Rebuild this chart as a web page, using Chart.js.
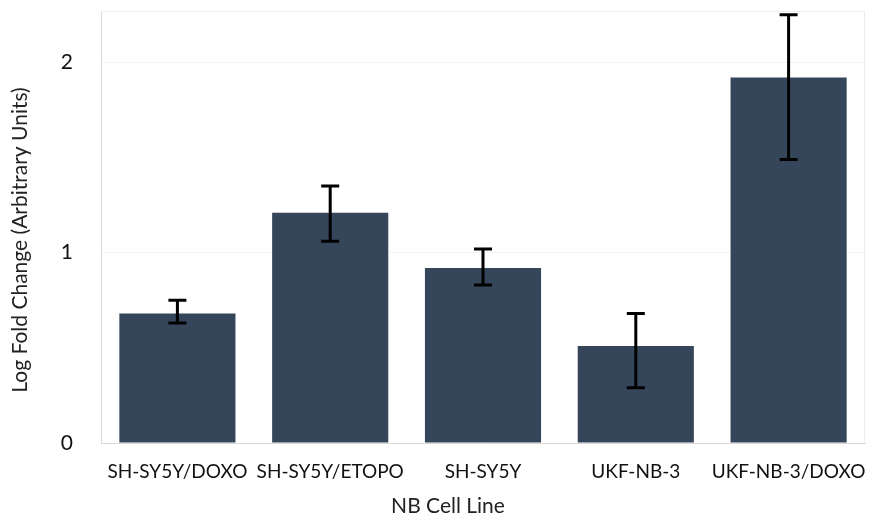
<!DOCTYPE html>
<html>
<head>
<meta charset="utf-8">
<script src="https://cdn.jsdelivr.net/npm/chart.js@4"></script>
<style>
  html, body { margin: 0; padding: 0; background: #fff; }
  #wrap { width: 877px; height: 519px; }
</style>
</head>
<body>
<div id="wrap"><canvas id="myChart" width="877" height="519"></canvas></div>
<script>
// data
const cellLines = ['SH-SY5Y/DOXO', 'SH-SY5Y/ETOPO', 'SH-SY5Y', 'UKF-NB-3', 'UKF-NB-3/DOXO']
const foldChange = [0.68, 1.21, 0.92, 0.51, 1.92]
const errLow = [0.63, 1.06, 0.83, 0.29, 1.49]
const errHigh = [0.75, 1.35, 1.02, 0.68, 2.25]
const yTicks = [0, 1, 2]
const xTitle = 'NB Cell Line'
const yTitle = 'Log Fold Change (Arbitrary Units)'

const FONT = 'Lato, "Open Sans", sans-serif'

// error bars, faint frame and the two axis titles (drawn off-centre like the original)
const errorBars = {
  id: 'errorBars',
  beforeDatasetsDraw(chart) {
    const { ctx, chartArea: a } = chart
    ctx.save()
    ctx.strokeStyle = '#eeeeee'
    ctx.lineWidth = 1
    ctx.beginPath()
    ctx.moveTo(a.left, a.top + 0.5)
    ctx.lineTo(a.right, a.top + 0.5)
    ctx.moveTo(a.right - 0.5, a.top)
    ctx.lineTo(a.right - 0.5, a.bottom)
    ctx.stroke()
    ctx.restore()
  },
  afterDatasetsDraw(chart) {
    const { ctx } = chart
    const y = chart.scales.y
    const meta = chart.getDatasetMeta(0)
    ctx.save()
    ctx.strokeStyle = '#000'
    ctx.lineWidth = 3
    meta.data.forEach((bar, i) => {
      const top = y.getPixelForValue(errHigh[i])
      const bot = y.getPixelForValue(errLow[i])
      const cap = 9
      ctx.beginPath()
      ctx.moveTo(bar.x, top)
      ctx.lineTo(bar.x, bot)
      ctx.moveTo(bar.x - cap, top)
      ctx.lineTo(bar.x + cap, top)
      ctx.moveTo(bar.x - cap, bot)
      ctx.lineTo(bar.x + cap, bot)
      ctx.stroke()
    })
    ctx.restore()
  },
  afterDraw(chart) {
    const { ctx, chartArea: a } = chart
    ctx.save()
    ctx.fillStyle = '#222'
    ctx.font = '21px ' + FONT
    ctx.textAlign = 'center'
    ctx.textBaseline = 'middle'
    ctx.fillText(xTitle, a.left + 347, 506)
    ctx.translate(20, a.top + 229)
    ctx.rotate(-Math.PI / 2)
    ctx.fillText(yTitle, 0, 0)
    ctx.restore()
  }
}

const ctx = document.getElementById('myChart')

new Chart(ctx, {
  type: 'bar',
  data: {
    labels: cellLines,
    datasets: [{
      data: foldChange,
      backgroundColor: '#36465a',
      borderWidth: 0,
      categoryPercentage: 1,
      barPercentage: 0.76
    }]
  },
  options: {
    responsive: false,
    animation: false,
    devicePixelRatio: 1,
    layout: { padding: { left: 0, right: 12, top: 11, bottom: 0 } },
    plugins: {
      legend: { display: false },
      tooltip: { enabled: false }
    },
    scales: {
      x: {
        grid: { display: false },
        border: { color: '#d9d9d9', width: 1 },
        ticks: {
          color: '#111',
          font: { family: FONT, size: 19 },
          maxRotation: 0,
          autoSkip: false,
          padding: 9
        },
        afterFit(scale) {
          scale.height = 76
          scale.paddingLeft = 0
          scale.paddingRight = 0
        }
      },
      y: {
        min: 0,
        max: 2.27,
        afterBuildTicks(scale) {
          scale.ticks = yTicks.map(v => ({ value: v }))
        },
        grid: { color: '#f3f3f3', drawTicks: false },
        border: { color: '#d9d9d9', width: 1 },
        ticks: {
          color: '#111',
          font: { family: FONT, size: 21 },
          padding: 28
        },
        afterFit(scale) {
          scale.width = 101
          scale.paddingTop = 0
          scale.paddingBottom = 0
        }
      }
    }
  },
  plugins: [errorBars]
})
</script>
</body>
</html>
